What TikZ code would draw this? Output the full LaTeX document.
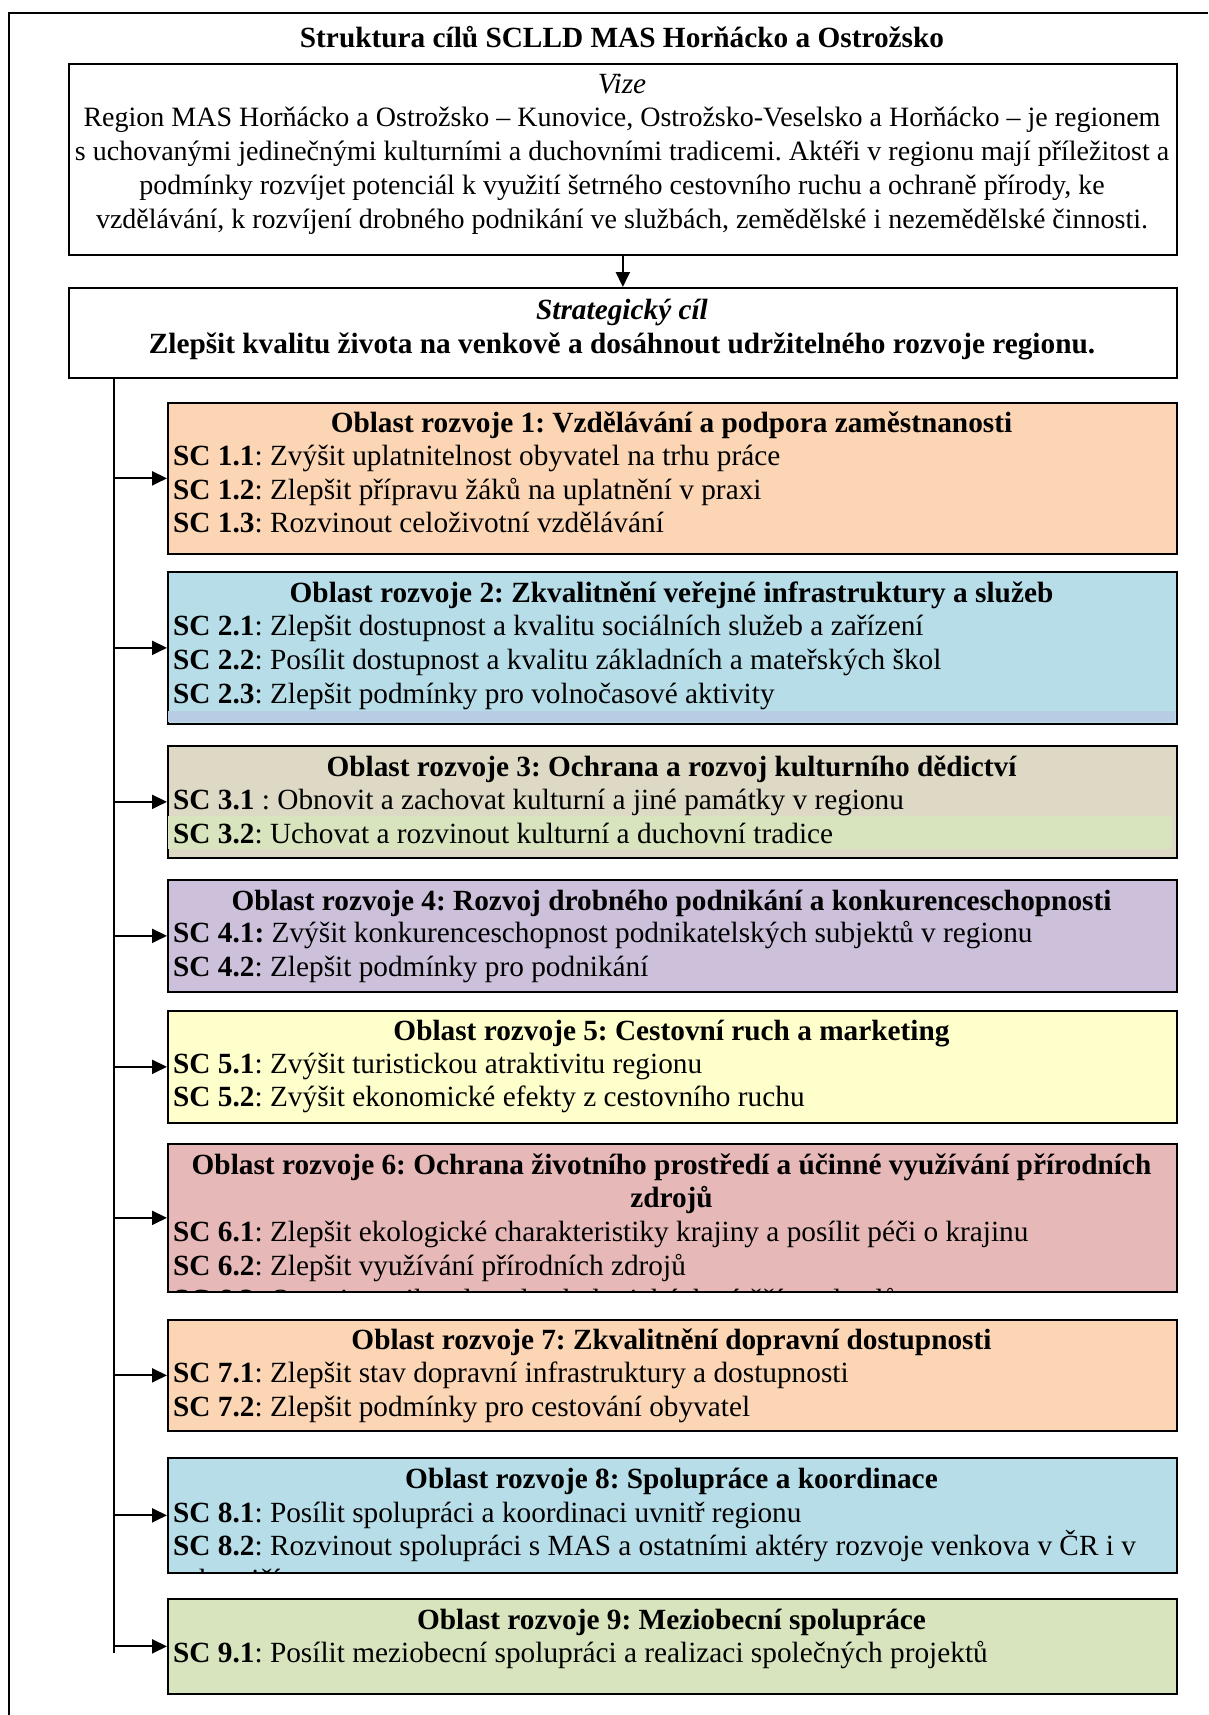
\documentclass[tikz,border=0pt]{standalone}
\usepackage{fontspec}
\setmainfont{Liberation Serif}
\usetikzlibrary{arrows.meta}
\frenchspacing

\definecolor{oranz}{HTML}{FCD5B4}
\definecolor{modra}{HTML}{B7DEE8}
\definecolor{modrab}{HTML}{B8CCE4}
\definecolor{bezova}{HTML}{DDD9C4}
\definecolor{zelena}{HTML}{D7E4BD}
\definecolor{fialova}{HTML}{CCC0DA}
\definecolor{zluta}{HTML}{FFFFCC}
\definecolor{ruzova}{HTML}{E6B9B8}

\tikzset{
  box/.style={draw=black, line width=1.7pt, rectangle, anchor=north west, inner sep=0pt, minimum width=1009pt},
  txt/.style={anchor=base, inner sep=0pt, font=\fontsize{29.3}{34}\selectfont},
  vz/.style={anchor=base, inner sep=0pt, font=\fontsize{28}{34}\selectfont},
  tit/.style={txt, font=\fontsize{29.3}{34}\selectfont\bfseries},
  sc/.style={txt, anchor=base west},
  sipka/.style={-{Triangle[length=15pt,width=14pt]}, line width=2pt},
}

\begin{document}
\begin{tikzpicture}[x=1pt,y=-1pt]
\def\xa{68}
\def\xl{167}
\def\xs{114}
\def\xt{173}
\def\xm{671.5}
\def\xc{622}

\useasboundingbox (0,0) rectangle (1208,1715);
% ramecek
\draw[line width=1.5pt] (9,1715) -- (9,13) -- (1208,13);
\node[tit] (nadpis) at (\xc,48) {Struktura cílů SCLLD MAS Horňácko a Ostrožsko};

% vize
\node[box, minimum width=1108pt, minimum height=191pt] (vize) at (\xa,63) {};
\node[txt, font=\fontsize{29.3}{34}\selectfont\itshape] (v0) at (\xc,94) {Vize};
\node[vz] (v1) at (\xc,127) {Region MAS Horňácko a Ostrožsko – Kunovice, Ostrožsko-Veselsko a Horňácko – je regionem};
\node[vz] (v2) at (\xc,161) {s uchovanými jedinečnými kulturními a duchovními tradicemi. Aktéři v regionu mají příležitost a};
\node[vz] (v3) at (\xc,195) {podmínky rozvíjet potenciál k využití šetrného cestovního ruchu a ochraně přírody, ke};
\node[vz] (v4) at (\xc,229) {vzdělávání, k rozvíjení drobného podnikání ve službách, zemědělské i nezemědělské činnosti.};

% strategicky cil
\node[box, minimum width=1108pt, minimum height=90pt] (cil) at (\xa,287) {};
\node[txt, font=\fontsize{29.3}{34}\selectfont\bfseries\itshape] (c0) at (\xc,319) {Strategický cíl};
\node[tit] (c1) at (\xc,353) {Zlepšit kvalitu života na venkově a dosáhnout udržitelného rozvoje regionu.};
\draw[sipka] (vize.south) -- (cil.north);

% oblasti rozvoje
\node[box, fill=oranz, minimum height=151pt] (o1) at (\xl,402) {};
\node[tit] (t1) at (\xm,432) {Oblast rozvoje 1: Vzdělávání a podpora zaměstnanosti};
\node[sc] (s11) at (\xt,465) {\textbf{SC 1.1}: Zvýšit uplatnitelnost obyvatel na trhu práce};
\node[sc] (s12) at (\xt,499) {\textbf{SC 1.2}: Zlepšit přípravu žáků na uplatnění v praxi};
\node[sc] (s13) at (\xt,532) {\textbf{SC 1.3}: Rozvinout celoživotní vzdělávání};

\node[box, fill=modra, minimum height=152pt] (o2) at (\xl,571) {};
\fill[modrab] (168,711) rectangle (1175,722);
\node[tit] (t2) at (\xm,602) {Oblast rozvoje 2: Zkvalitnění veřejné infrastruktury a služeb};
\node[sc] (s21) at (\xt,635) {\textbf{SC 2.1}: Zlepšit dostupnost a kvalitu sociálních služeb a zařízení};
\node[sc] (s22) at (\xt,669) {\textbf{SC 2.2}: Posílit dostupnost a kvalitu základních a mateřských škol};
\node[sc] (s23) at (\xt,703) {\textbf{SC 2.3}: Zlepšit podmínky pro volnočasové aktivity};

\node[box, fill=bezova, minimum height=112pt] (o3) at (\xl,745) {};
\fill[zelena] (168,816) rectangle (1172,849);
\node[tit] (t3) at (\xm,776) {Oblast rozvoje 3: Ochrana a rozvoj kulturního dědictví};
\node[sc] (s31) at (\xt,809) {\textbf{SC 3.1} : Obnovit a zachovat kulturní a jiné památky v regionu};
\node[sc] (s32) at (\xt,843) {\textbf{SC 3.2}: Uchovat a rozvinout kulturní a duchovní tradice};

\node[box, fill=fialova, minimum height=112pt] (o4) at (\xl,879) {};
\node[tit] (t4) at (\xm,910) {Oblast rozvoje 4: Rozvoj drobného podnikání a konkurenceschopnosti};
\node[sc] (s41) at (\xt,942) {\textbf{SC 4.1:} Zvýšit konkurenceschopnost podnikatelských subjektů v regionu};
\node[sc] (s42) at (\xt,976) {\textbf{SC 4.2}: Zlepšit podmínky pro podnikání};

\node[box, fill=zluta, minimum height=112pt] (o5) at (\xl,1010) {};
\node[tit] (t5) at (\xm,1040) {Oblast rozvoje 5: Cestovní ruch a marketing};
\node[sc] (s51) at (\xt,1073) {\textbf{SC 5.1}: Zvýšit turistickou atraktivitu regionu};
\node[sc] (s52) at (\xt,1106) {\textbf{SC 5.2}: Zvýšit ekonomické efekty z cestovního ruchu};

\node[box, fill=ruzova, minimum height=148pt] (o6) at (\xl,1143) {};
\node[tit] (t6) at (\xm,1174) {Oblast rozvoje 6: Ochrana životního prostředí a účinné využívání přírodních};
\node[tit] (t6b) at (\xm,1207) {zdrojů};
\node[sc] (s61) at (\xt,1241) {\textbf{SC 6.1}: Zlepšit ekologické charakteristiky krajiny a posílit péči o krajinu};
\node[sc] (s62) at (\xt,1275) {\textbf{SC 6.2}: Zlepšit využívání přírodních zdrojů};
\begin{scope}
\clip (168,1144) rectangle (1175,1290);
\node[sc] (s63) at (\xt,1309) {\textbf{SC 6.3}: Omezit vznik a dopady ekologických zátěží a odpadů};
\end{scope}

\node[box, fill=oranz, minimum height=111pt] (o7) at (\xl,1319) {};
\node[tit] (t7) at (\xm,1349) {Oblast rozvoje 7: Zkvalitnění dopravní dostupnosti};
\node[sc] (s71) at (\xt,1382) {\textbf{SC 7.1}: Zlepšit stav dopravní infrastruktury a dostupnosti};
\node[sc] (s72) at (\xt,1416) {\textbf{SC 7.2}: Zlepšit podmínky pro cestování obyvatel};

\node[box, fill=modra, minimum height=115pt] (o8) at (\xl,1457) {};
\node[tit] (t8) at (\xm,1488) {Oblast rozvoje 8: Spolupráce a koordinace};
\node[sc] (s81) at (\xt,1522) {\textbf{SC 8.1}: Posílit spolupráci a koordinaci uvnitř regionu};
\node[sc] (s82) at (\xt,1555) {\textbf{SC 8.2}: Rozvinout spolupráci s MAS a ostatními aktéry rozvoje venkova v ČR i v};
\begin{scope}
\clip (168,1458) rectangle (1175,1571);
\node[sc] (s83) at (\xt,1589) {zahraničí};
\end{scope}

\node[box, fill=zelena, minimum height=95pt] (o9) at (\xl,1598) {};
\node[tit] (t9) at (\xm,1629) {Oblast rozvoje 9: Meziobecní spolupráce};
\node[sc] (s91) at (\xt,1662) {\textbf{SC 9.1}: Posílit meziobecní spolupráci a realizaci společných projektů};

% spojnice
\coordinate (s) at (\xs,377);
\draw[line width=1.8pt] (s) -- ([yshift=-7pt]s |- o9.west);
\foreach \i in {1,...,9}
  \draw[sipka] (o\i.west -| s) -- (o\i.west);
\end{tikzpicture}
\end{document}
